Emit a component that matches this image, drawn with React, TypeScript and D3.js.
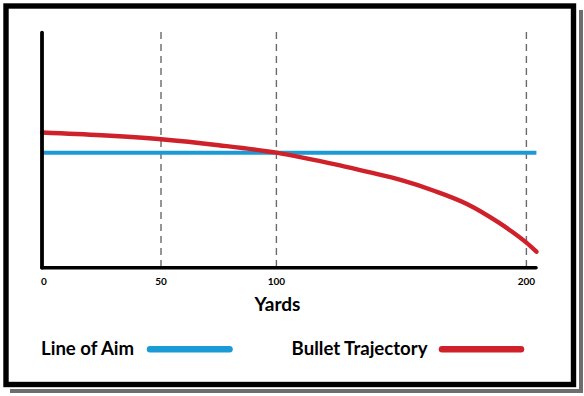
import React from "react";
import * as d3 from "d3";

const W = 584;
const H = 396;

// Distance in yards and bullet height relative to the line of aim
const yards = [0, 25, 50, 75, 100, 110, 125, 137, 150, 163, 176, 189, 200, 204];
const trajectory = [20.2, 17.4, 13.4, 7.5, 0, -4.6, -12.5, -19.5, -27.5, -38, -51, -70, -90, -99];
const lineOfAim = [0, 0];
const aimYards = [0, 204];
const tickYards = [0, 50, 100, 200];
const tickLabels = ["0", "50", "100", "200"];
const xTitle = "Yards";
const legendLabels = ["Line of Aim", "Bullet Trajectory"];

const BLUE = "#1c9ad6";
const RED = "#cf2129";
const FONT = "Lato, 'Open Sans', sans-serif";

export default function App() {
  // hand-drawn reference: axis spacing is not perfectly uniform
  const x = d3.scaleLinear().domain([0, 50, 100, 200, 210]).range([42, 161, 276.4, 526.4, 551.4]);
  const y = d3.scaleLinear().domain([-115, 120]).range([267.7, 32.7]);

  const curve = d3
    .line<number>()
    .x((_, i) => x(yards[i]))
    .y((d) => y(d))
    .curve(d3.curveMonotoneX);

  const aim = d3
    .line<number>()
    .x((_, i) => x(aimYards[i]))
    .y((d) => y(d));

  return (
    <svg
      width={W}
      height={H}
      style={{ position: "absolute", left: 0, top: 0, background: "#fff" }}
    >
      {/* shadow */}
      <line x1={581} y1={10} x2={581} y2={393} stroke="#6e6e6e" strokeWidth={4} />
      <line x1={10} y1={391} x2={583} y2={391} stroke="#6e6e6e" strokeWidth={4} />
      {/* frame */}
      <rect x={6} y={6} width={567.5} height={378.5} fill="#fff" stroke="#000" strokeWidth={5.4} />

      {/* dashed grid lines */}
      {tickYards.slice(1).map((t) => (
        <line
          key={t}
          x1={x(t)}
          x2={x(t)}
          y1={32}
          y2={267}
          stroke="#6a6a6a"
          strokeWidth={1.4}
          strokeDasharray="7,5"
        />
      ))}

      {/* line of aim */}
      <path d={aim(lineOfAim) || ""} fill="none" stroke={BLUE} strokeWidth={4} />
      {/* bullet trajectory */}
      <path d={curve(trajectory) || ""} fill="none" stroke={RED} strokeWidth={4.4} strokeLinecap="round" />

      {/* axes */}
      <line x1={x(0)} x2={x(0)} y1={y(120)} y2={y(-115)} stroke="#000" strokeWidth={3.8} strokeLinecap="round" />
      <line x1={x(0)} x2={536} y1={y(-115)} y2={y(-115)} stroke="#000" strokeWidth={3.6} strokeLinecap="round" />

      {/* tick labels */}
      {tickYards.map((t, i) => (
        <text
          key={t}
          x={x(t) + (i === 0 ? 2 : 0)}
          y={284.5}
          textAnchor="middle"
          fontFamily={FONT}
          fontWeight={700}
          fontSize={10}
          fill="#000"
        >
          {tickLabels[i]}
        </text>
      ))}

      {/* axis title */}
      <text x={277.5} y={310.5} textAnchor="middle" fontFamily={FONT} fontWeight={700} fontSize={19} fill="#000">
        {xTitle}
      </text>

      {/* legend */}
      <text x={41} y={355} fontFamily={FONT} fontWeight={700} fontSize={18.6} fill="#000">
        {legendLabels[0]}
      </text>
      <line x1={150} x2={229.5} y1={349.3} y2={349.3} stroke={BLUE} strokeWidth={6.5} strokeLinecap="round" />
      <text x={291.6} y={355} fontFamily={FONT} fontWeight={700} fontSize={18.6} fill="#000">
        {legendLabels[1]}
      </text>
      <line x1={442} x2={521} y1={349.3} y2={349.3} stroke={RED} strokeWidth={6.5} strokeLinecap="round" />
    </svg>
  );
}
